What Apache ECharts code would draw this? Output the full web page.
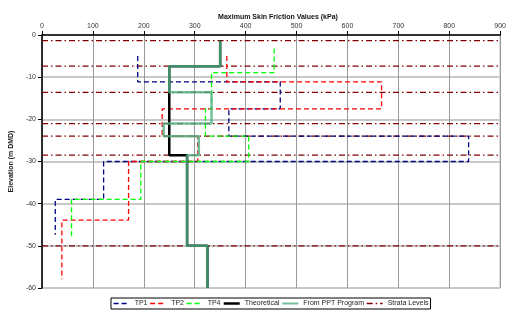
<!DOCTYPE html>
<html>
<head>
<meta charset="utf-8">
<script src="https://cdn.jsdelivr.net/npm/echarts@6/dist/echarts.min.js"></script>
<style>
html, body { margin: 0; padding: 0; background: #fff; }
#mychart { width: 509px; height: 311px; }
</style>
</head>
<body>
<div id="mychart"></div>
<script>
// skin friction (kPa) against elevation (m DMD), step profiles
var tp1 = [[188, -5.0], [188, -11.1], [468, -11.1], [468, -17.5], [367, -17.5], [367, -24.0], [838, -24.0], [838, -30.0], [121, -30.0], [121, -39.0], [26, -39.0], [26, -47.4]];
var tp2 = [[363, -5.0], [363, -11.1], [667, -11.1], [667, -17.5], [236, -17.5], [236, -24.0], [306, -24.0], [306, -30.0], [170, -30.0], [170, -43.9], [39, -43.9], [39, -57.9]];
var tp4 = [[456, -3.2], [456, -8.9], [333, -8.9], [333, -17.5], [321, -17.5], [321, -24.0], [406, -24.0], [406, -30.0], [194, -30.0], [194, -39.0], [58, -39.0], [58, -48.0]];
var theoretical = [[350, -1.35], [350, -7.4], [250, -7.4], [250, -28.5], [285, -28.5], [285, -50.0], [325, -50.0], [325, -60.0]];
var ppt = [[350, -1.35], [350, -7.4], [250, -7.4], [250, -13.6], [333, -13.6], [333, -21.0], [239, -21.0], [239, -24.0], [308, -24.0], [308, -28.5], [285, -28.5], [285, -50.0], [325, -50.0], [325, -60.0]];
var strataLevels = [-1.35, -7.4, -13.6, -21.0, -24.0, -28.5, -50.0];

var FONT = 'Liberation Sans, Arial, sans-serif';

var myChart = echarts.init(document.getElementById('mychart'));

function dashLine(name, data, color) {
	return {
		name: name,
		type: 'line',
		data: data,
		symbol: 'none',
		animation: false,
		lineStyle: { color: color, width: 1.3, type: [5, 3] },
		itemStyle: { color: color }
	};
}

var series = [];
strataLevels.forEach(function(lv) {
	series.push({
		name: 'Strata Levels',
		type: 'line',
		data: [[0, lv], [900, lv]],
		symbol: 'none',
		animation: false,
		lineStyle: { color: '#800000', width: 1.3, type: [6, 3, 1.5, 3] },
		itemStyle: { color: '#800000' }
	});
});
series.push(dashLine('TP1', tp1, '#000080'));
series.push(dashLine('TP2', tp2, '#ff0000'));
series.push(dashLine('TP4', tp4, '#00ff00'));
series.push({
	name: 'Theoretical',
	type: 'line',
	data: theoretical,
	symbol: 'none',
	animation: false,
	lineStyle: { color: '#000000', width: 2.5 },
	itemStyle: { color: '#000000' }
});
series.push({
	name: 'From PPT Program',
	type: 'line',
	data: ppt,
	symbol: 'none',
	animation: false,
	lineStyle: { color: '#4fb283', width: 2.5, opacity: 0.8 },
	itemStyle: { color: '#4fb283' }
});

var option = {
	backgroundColor: '#fff',
	textStyle: { fontFamily: FONT },
	title: {
		text: 'Maximum Skin Friction Values (kPa)',
		left: 273,
		top: 9,
		textAlign: 'center',
		textStyle: { fontSize: 7, fontWeight: 'bold', color: '#111', fontFamily: FONT }
	},
	legend: {
		data: ['TP1', 'TP2', 'TP4',
			{ name: 'Theoretical', lineStyle: { width: 2.5 } },
			{ name: 'From PPT Program', lineStyle: { width: 2 } },
			'Strata Levels'],
		left: 111,
		top: 298,
		padding: [2, 2],
		itemWidth: 16,
		itemHeight: 7,
		itemGap: 2,
		borderColor: '#000',
		borderWidth: 1,
		backgroundColor: '#fff',
		itemStyle: { opacity: 0 },
		lineStyle: { width: 1.3 },
		textStyle: { fontSize: 7, color: '#222', fontFamily: FONT }
	},
	grid: {
		left: 42,
		top: 35,
		width: 462,
		height: 253,
		show: true,
		borderColor: '#999',
		borderWidth: 1
	},
	xAxis: {
		type: 'value',
		position: 'top',
		min: 0,
		max: 900,
		interval: 100,
		axisLine: { show: true, onZero: false, lineStyle: { color: '#000', width: 1.5 } },
		axisTick: { show: true, length: 4, lineStyle: { color: '#000' } },
		axisLabel: { fontSize: 7, color: '#333', margin: 5, fontFamily: FONT },
		splitLine: { show: true, lineStyle: { color: '#999', width: 1 } }
	},
	yAxis: {
		type: 'value',
		min: -60,
		max: 0,
		interval: 10,
		name: 'Elevation (m DMD)',
		nameLocation: 'middle',
		nameRotate: 90,
		nameGap: 20,
		nameTextStyle: { fontSize: 7, fontWeight: 'bold', color: '#222', fontFamily: FONT },
		axisLine: { show: true, onZero: false, lineStyle: { color: '#000', width: 1.5 } },
		axisTick: { show: true, length: 4, lineStyle: { color: '#000' } },
		axisLabel: { fontSize: 7, color: '#333', margin: 6, fontFamily: FONT },
		splitLine: { show: true, lineStyle: { color: '#c8c8c8', width: 2 } }
	},
	series: series
};
myChart.setOption(option);
</script>
</body>
</html>
